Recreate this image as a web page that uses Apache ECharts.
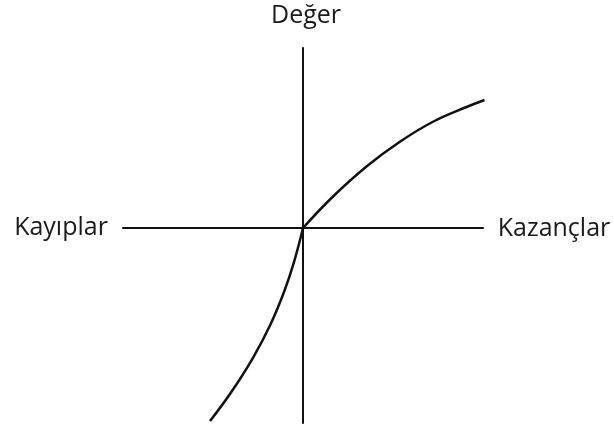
<!DOCTYPE html>
<html>
<head>
<meta charset="utf-8">
<script src="https://cdn.jsdelivr.net/npm/echarts@6/dist/echarts.min.js"></script>
<style>html,body{margin:0;padding:0;background:#fff}#c{width:614px;height:430px}</style>
</head>
<body>
<div id="c"></div>
<script>
const lossX = [-93, -71.5, -50.3, -32.8, -18.9, -8.8, 0];
const lossY = [-193, -163.7, -130.3, -97, -63.7, -33.3, 0];
const gainX = [0, 29.5, 63.5, 96.5, 129.5, 163.5, 181.5];
const gainY = [0, 31, 61.5, 86, 106, 121, 128];
const labelTop = 'Değer';
const labelLeft = 'Kayıplar';
const labelRight = 'Kazançlar';

const chart = echarts.init(document.getElementById('c'), null, {renderer: 'canvas'});
const font = '"Open Sans", sans-serif';
const txt = (text, x, y) => ({type: 'text', style: {text, x, y, align: 'center', verticalAlign: 'middle', font: '25px ' + font, fill: '#1a1a1a'}});
chart.setOption({
  animation: false,
  grid: {left: 123, right: 131, top: 48, bottom: 7},
  xAxis: {type: 'value', min: -180, max: 180,
    axisLine: {onZero: true, lineStyle: {color: '#111', width: 2}},
    axisTick: {show: false}, axisLabel: {show: false}, splitLine: {show: false}},
  yAxis: {type: 'value', min: -195, max: 180,
    axisLine: {show: true, onZero: true, lineStyle: {color: '#111', width: 2}},
    axisTick: {show: false}, axisLabel: {show: false}, splitLine: {show: false}},
  graphic: [
    txt(labelTop, 306, 16),
    txt(labelLeft, 61, 228),
    txt(labelRight, 554, 229)
  ],
  series: [
    {type: 'line', data: lossX.map((x, i) => [x, lossY[i]]), smooth: 0.4, showSymbol: false, clip: false,
      lineStyle: {color: '#111', width: 2.5}},
    {type: 'line', data: gainX.map((x, i) => [x, gainY[i]]), smooth: 0.4, showSymbol: false, clip: false,
      lineStyle: {color: '#111', width: 2.5}}
  ]
});
</script>
</body>
</html>
